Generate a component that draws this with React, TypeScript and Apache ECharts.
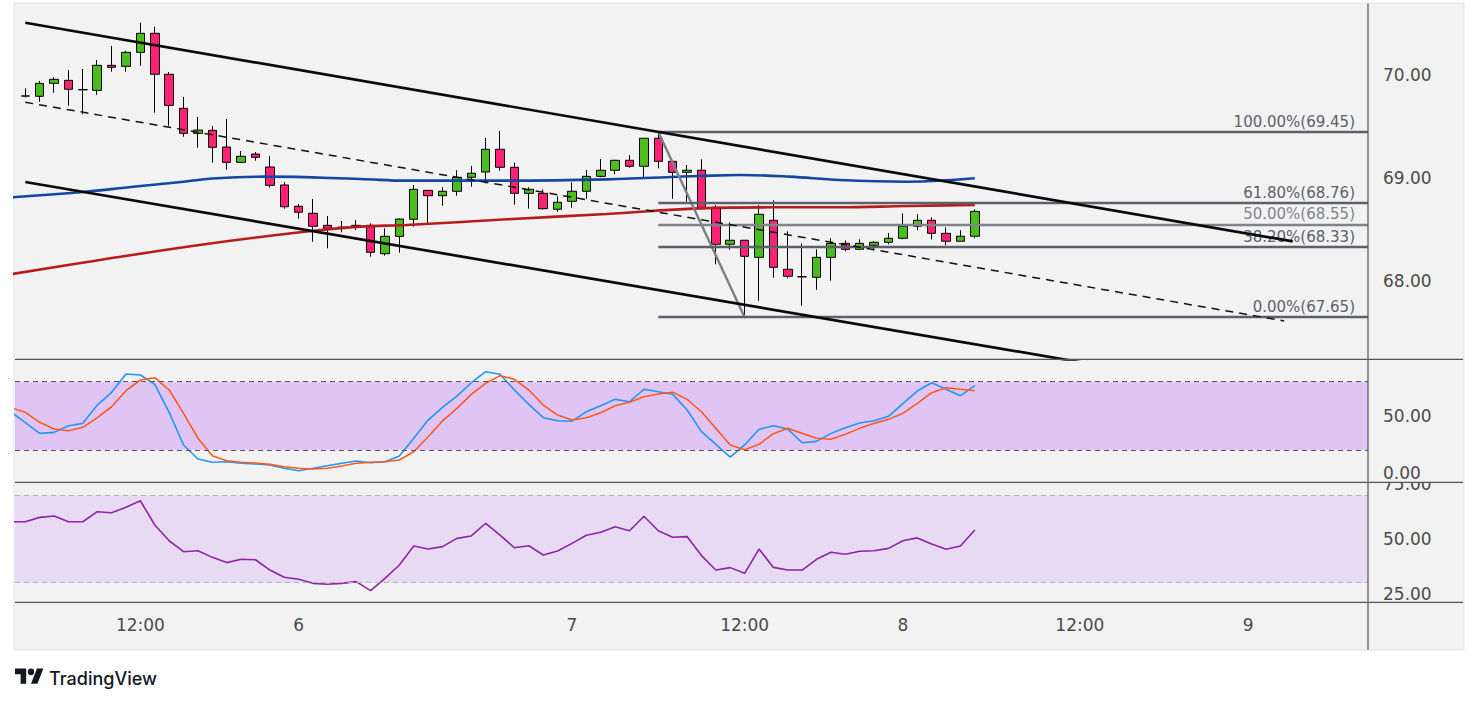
import React, { useEffect, useRef } from 'react';
import * as echarts from 'echarts';

// ---------- data (x = bar index; indicator arrays start at the partly hidden bar -1) ----------
const candleStart = 0;
const candleOpen = [69.80, 69.797, 69.923, 69.952, 69.861, 69.855, 70.098, 70.088, 70.224, 70.409, 70.011, 69.680, 69.437, 69.466, 69.304, 69.155, 69.236, 69.110, 68.935, 68.728, 68.660, 68.543, 68.524, 68.543, 68.543, 68.267, 68.436, 68.602, 68.883, 68.831, 68.874, 69.010, 69.061, 69.282, 69.107, 68.854, 68.854, 68.699, 68.776, 68.874, 69.019, 69.078, 69.175, 69.117, 69.389, 69.165, 69.058, 69.078, 68.718, 68.359, 68.398, 68.232, 68.592, 68.116, 68.043, 68.038, 68.232, 68.368, 68.310, 68.349, 68.378, 68.417, 68.534, 68.592, 68.465, 68.388, 68.437];
const candleClose = [69.80, 69.923, 69.962, 69.865, 69.861, 70.098, 70.079, 70.224, 70.409, 70.011, 69.709, 69.437, 69.469, 69.301, 69.155, 69.214, 69.204, 68.932, 68.724, 68.670, 68.534, 68.514, 68.524, 68.524, 68.281, 68.436, 68.604, 68.893, 68.831, 68.874, 69.010, 69.049, 69.282, 69.107, 68.854, 68.893, 68.705, 68.767, 68.874, 69.019, 69.078, 69.175, 69.117, 69.389, 69.165, 69.058, 69.078, 68.714, 68.359, 68.398, 68.242, 68.650, 68.135, 68.048, 68.043, 68.232, 68.368, 68.310, 68.368, 68.378, 68.417, 68.534, 68.592, 68.465, 68.388, 68.437, 68.679];
const candleLow = [69.787, 69.744, 69.832, 69.706, 69.622, 69.812, 70.036, 70.036, 70.094, 69.638, 69.511, 69.404, 69.297, 69.152, 69.084, 69.155, 69.171, 68.909, 68.705, 68.607, 68.384, 68.320, 68.475, 68.498, 68.238, 68.248, 68.277, 68.530, 68.559, 68.734, 68.831, 68.918, 68.951, 69.074, 68.743, 68.705, 68.695, 68.675, 68.714, 68.799, 69.010, 69.039, 69.103, 69.010, 69.097, 68.802, 68.773, 68.708, 68.164, 68.306, 67.640, 67.810, 68.034, 68.028, 67.762, 67.917, 68.005, 68.291, 68.310, 68.300, 68.359, 68.407, 68.495, 68.407, 68.349, 68.388, 68.417];
const candleHigh = [69.875, 69.946, 69.982, 70.052, 70.062, 70.150, 70.286, 70.240, 70.512, 70.473, 70.033, 69.790, 69.596, 69.508, 69.576, 69.265, 69.256, 69.217, 68.964, 68.750, 68.799, 68.634, 68.585, 68.595, 68.563, 68.514, 68.611, 68.935, 68.886, 68.913, 69.078, 69.120, 69.392, 69.460, 69.152, 68.913, 68.893, 68.825, 68.961, 69.081, 69.188, 69.180, 69.226, 69.392, 69.450, 69.170, 69.129, 69.185, 68.741, 68.572, 68.400, 68.741, 68.786, 68.485, 68.368, 68.310, 68.417, 68.397, 68.407, 68.388, 68.469, 68.660, 68.650, 68.621, 68.524, 68.495, 68.699];

const maBlue: [number, number][] = [[-1, 68.815], [4, 68.867], [7.5, 68.918], [11, 68.967], [13.3, 69.0], [16.8, 69.016], [23.3, 68.993], [26.5, 68.977], [33.5, 68.977], [40.4, 68.99], [46.9, 69.022], [49.7, 69.032], [53.1, 69.016], [56.6, 68.983], [61.3, 68.967], [66, 69.0]];
const maRed: [number, number][] = [[-1, 68.068], [5.2, 68.206], [12.1, 68.352], [19.1, 68.475], [23.3, 68.53], [26.5, 68.546], [33.5, 68.602], [40.4, 68.653], [46.9, 68.708], [51.8, 68.718], [56.6, 68.718], [61.3, 68.731], [66, 68.741]];

const indicatorStart = -1;
const stochK = [53.3, 44.0, 34.6, 35.5, 41.3, 43.4, 59.5, 70.7, 86.8, 85.9, 77.7, 53.1, 24.4, 12.1, 9.2, 9.7, 8.3, 7.7, 6.8, 3.9, 1.8, 3.9, 6.2, 8.3, 10.3, 8.8, 9.7, 14.7, 30.3, 46.3, 57.5, 67.4, 79.1, 88.8, 86.5, 72.7, 60.1, 48.4, 45.7, 45.4, 53.6, 58.9, 64.5, 62.4, 73.3, 71.2, 68.9, 55.1, 36.1, 25.0, 13.8, 24.4, 38.2, 41.3, 38.4, 26.4, 27.6, 34.6, 39.6, 43.7, 45.7, 49.6, 60.7, 71.8, 79.1, 73.3, 67.7, 76.5];
const stochD = [57.1, 53.1, 44.3, 38.4, 36.9, 39.9, 48.4, 58.0, 72.1, 81.5, 83.5, 72.7, 52.2, 30.3, 15.0, 10.6, 9.2, 8.6, 7.4, 5.3, 3.9, 3.3, 3.9, 5.9, 8.3, 9.2, 9.7, 11.2, 18.5, 31.7, 45.5, 56.6, 68.9, 78.6, 85.3, 82.1, 72.7, 59.5, 50.7, 46.3, 48.4, 52.8, 58.9, 61.9, 66.8, 69.2, 70.7, 64.5, 53.6, 39.0, 24.4, 20.2, 25.0, 34.3, 39.0, 34.6, 30.3, 29.4, 33.8, 39.0, 43.4, 46.9, 52.2, 61.0, 70.3, 74.7, 73.3, 72.1];
const rsiValues = [57.9, 57.9, 59.9, 60.5, 57.9, 57.9, 62.5, 62.0, 64.5, 67.5, 56.4, 49.2, 44.2, 44.6, 41.6, 39.2, 40.7, 40.5, 35.8, 32.5, 31.6, 29.7, 29.3, 29.7, 30.5, 26.4, 32.0, 38.1, 46.8, 45.4, 46.5, 50.3, 51.4, 57.2, 51.8, 46.0, 46.9, 42.7, 44.5, 48.0, 51.7, 53.1, 55.6, 53.8, 60.4, 53.8, 50.8, 51.1, 42.4, 35.8, 36.9, 34.3, 45.4, 37.0, 35.8, 35.8, 40.7, 43.9, 43.0, 44.4, 44.6, 45.7, 49.2, 50.5, 47.7, 45.3, 46.8, 54.1];

const trendUpper: [number, number][] = [[0, 70.512], [88.1, 68.387]];
const trendLower: [number, number][] = [[0, 68.964], [75, 67.173]];
const trendMid: [number, number][] = [[0, 69.739], [87.5, 67.614]];
const fibSwing: [number, number][] = [[44, 69.45], [50, 67.65]];
const fibPct = [100, 61.8, 50, 38.2, 0];
const fibLevels = [69.45, 68.76, 68.55, 68.33, 67.65];
const fibColors = ['#5d606b', '#5d606b', '#80838d', '#5d606b', '#5d606b'];

const priceTicks = [68, 69, 70];
const stochTicks = [0, 50];
const stochBand = [20, 80];
const rsiTicks = [25, 50, 75];
const rsiBand = [30, 70];
const timeTicks = [8, 19, 38, 50, 61, 73.3, 85];
const timeLabels = ['12:00', '6', '7', '12:00', '8', '12:00', '9'];

// ---------- layout ----------
const FONT = '"DejaVu Sans", Verdana, sans-serif';
const X_MIN = -0.716;
const X_MAX = 93.33;
const LABEL_COLOR = '#4a4a4a';

echarts.graphic.registerShape(
  'tvlogo',
  echarts.graphic.extendPath('M14 22H7V11H0V4h14v18zM28 22h-8l7.5-18h8L28 22zM24 8a4 4 0 1 1-8 0a4 4 0 1 1 8 0z', {})
);

const idx = (arr: number[]) => arr.map((v, k) => [k + indicatorStart, v]);

function buildOption(): any {
  const candles = candleOpen.map((o, k) => [k + candleStart, o, candleClose[k], candleLow[k], candleHigh[k]]);
  const yLabel = (ticks: number[]) => ({
    customValues: ticks,
    formatter: (v: number) => v.toFixed(2),
    color: LABEL_COLOR,
    fontSize: 17,
    fontFamily: FONT,
    margin: 15,
  });
  const hiddenX = (gridIndex: number) => ({
    type: 'value', gridIndex, min: X_MIN, max: X_MAX, show: false, splitLine: { show: false },
  });
  const lineBase = { type: 'line', symbol: 'none', showSymbol: false, silent: true, clip: true };

  return {
    animation: false,
    backgroundColor: '#ffffff',
    grid: [
      { left: 15, right: 111, top: 4, height: 355.3 },
      { left: 15, right: 111, top: 359.3, height: 123 },
      { left: 15, right: 111, top: 482.3, height: 120 },
    ],
    xAxis: [
      hiddenX(0),
      hiddenX(1),
      {
        type: 'value', gridIndex: 2, min: X_MIN, max: X_MAX,
        axisLine: { show: false }, axisTick: { show: false }, splitLine: { show: false },
        axisLabel: {
          customValues: timeTicks,
          formatter: (v: number) => {
            const k = timeTicks.findIndex((t) => Math.abs(t - v) < 0.01);
            return k >= 0 ? timeLabels[k] : '';
          },
          color: LABEL_COLOR, fontSize: 17, fontFamily: FONT, margin: 14,
        },
      },
    ],
    yAxis: [
      {
        type: 'value', gridIndex: 0, position: 'right', min: 67.241, max: 70.694,
        axisLine: { show: false }, axisTick: { show: false }, splitLine: { show: false },
        axisLabel: yLabel(priceTicks), z: 5,
      },
      {
        type: 'value', gridIndex: 1, position: 'right', min: -8.38, max: 99.68,
        axisLine: { show: false }, axisTick: { show: false }, splitLine: { show: false },
        axisLabel: yLabel(stochTicks), z: 5,
      },
      {
        type: 'value', gridIndex: 2, position: 'right', min: 21.03, max: 75.95,
        axisLine: { show: false }, axisTick: { show: false }, splitLine: { show: false },
        axisLabel: yLabel(rsiTicks), z: 0,
      },
    ],
    series: [
      {
        type: 'candlestick', xAxisIndex: 0, yAxisIndex: 0, data: candles, barWidth: 9, clip: true, z: 2,
        itemStyle: { color: '#4cbd1f', color0: '#ff2176', borderColor: '#000', borderColor0: '#000', borderColorDoji: '#000', borderWidth: 1 },
      },
      { ...lineBase, xAxisIndex: 0, yAxisIndex: 0, data: maBlue, smooth: 0.4, z: 3, lineStyle: { color: '#1447a0', width: 2.6 } },
      { ...lineBase, xAxisIndex: 0, yAxisIndex: 0, data: maRed, smooth: 0.4, z: 3, lineStyle: { color: '#b71c1c', width: 2.6 } },
      {
        ...lineBase, xAxisIndex: 0, yAxisIndex: 0, data: fibSwing, z: 4,
        lineStyle: { color: '#7c7f89', width: 2.4 },
        markLine: {
          silent: true, symbol: ['none', 'none'], animation: false,
          data: fibLevels.map((lv, k) => [
            {
              coord: [fibSwing[0][0], lv],
              lineStyle: { color: fibColors[k], width: 2.4, type: 'solid' },
              label: {
                show: true, position: 'insideEndTop', distance: [13, 3],
                formatter: `${fibPct[k].toFixed(2)}%(${lv.toFixed(2)})`,
                color: fibColors[k], fontSize: 15, fontFamily: FONT,
              },
            },
            { coord: [X_MAX, lv] },
          ]),
        },
      },
      { ...lineBase, xAxisIndex: 0, yAxisIndex: 0, data: trendMid, z: 5, lineStyle: { color: '#111', width: 1.5, type: [8, 6] } },
      { ...lineBase, xAxisIndex: 0, yAxisIndex: 0, data: trendUpper, z: 6, lineStyle: { color: '#0a0a0a', width: 2.7 } },
      { ...lineBase, xAxisIndex: 0, yAxisIndex: 0, data: trendLower, z: 6, lineStyle: { color: '#0a0a0a', width: 2.7 } },
      {
        ...lineBase, xAxisIndex: 1, yAxisIndex: 1, data: idx(stochK), z: 4,
        lineStyle: { color: '#2196f3', width: 1.6 },
        markArea: {
          silent: true,
          itemStyle: { color: '#e0c5f4' },
          data: [[{ yAxis: stochBand[0] }, { yAxis: stochBand[1] }]],
        },
        markLine: {
          silent: true, symbol: ['none', 'none'], animation: false, label: { show: false },
          lineStyle: { color: '#5c5266', width: 1, type: [5, 4] },
          data: stochBand.map((v) => ({ yAxis: v })),
        },
      },
      { ...lineBase, xAxisIndex: 1, yAxisIndex: 1, data: idx(stochD), z: 4, lineStyle: { color: '#ff5a1f', width: 1.6 } },
      {
        ...lineBase, xAxisIndex: 2, yAxisIndex: 2, data: idx(rsiValues), z: 4,
        lineStyle: { color: '#8e24aa', width: 1.6 },
        markArea: {
          silent: true,
          itemStyle: { color: '#e8daf3' },
          data: [[{ yAxis: rsiBand[0] }, { yAxis: rsiBand[1] }]],
        },
        markLine: {
          silent: true, symbol: ['none', 'none'], animation: false, label: { show: false },
          lineStyle: { color: '#b9afc4', width: 1, type: [5, 4] },
          data: rsiBand.map((v) => ({ yAxis: v })),
        },
      },
    ],
    graphic: [
      { type: 'rect', z: -10, silent: true, shape: { x: 14, y: 3, width: 1450, height: 647 }, style: { fill: '#f2f2f2', stroke: '#e3e3e8', lineWidth: 1 } },
      { type: 'rect', z: 2, silent: true, shape: { x: 1369, y: 470, width: 94, height: 12.3 }, style: { fill: '#f2f2f2' } },
      { type: 'line', z: 10, silent: true, shape: { x1: 15, y1: 359.3, x2: 1463, y2: 359.3 }, style: { stroke: '#555', lineWidth: 1.2 } },
      { type: 'line', z: 10, silent: true, shape: { x1: 15, y1: 482.3, x2: 1463, y2: 482.3 }, style: { stroke: '#555', lineWidth: 1.2 } },
      { type: 'line', z: 10, silent: true, shape: { x1: 15, y1: 602.3, x2: 1463, y2: 602.3 }, style: { stroke: '#555', lineWidth: 1.2 } },
      { type: 'line', z: 10, silent: true, shape: { x1: 1368, y1: 3.5, x2: 1368, y2: 650 }, style: { stroke: '#555', lineWidth: 1.2 } },
      { type: 'tvlogo', z: 10, silent: true, x: 15, y: 665, scaleX: 0.8, scaleY: 0.85, style: { fill: '#131722' } },
      {
        type: 'text', z: 10, silent: true, x: 49, y: 678,
        style: { text: 'TradingView', fill: '#131722', fontSize: 18, fontWeight: 500, fontFamily: 'Inter, "Noto Sans", sans-serif', verticalAlign: 'middle' },
      },
    ],
  };
}

export default function App() {
  const ref = useRef<HTMLDivElement>(null);
  useEffect(() => {
    if (!ref.current) return;
    const chart = echarts.init(ref.current, null, { renderer: 'svg' });
    chart.setOption(buildOption());
    return () => chart.dispose();
  }, []);
  return (
    <div
      ref={ref}
      style={{ position: 'fixed', left: 0, top: 0, width: 1479, height: 703, background: '#ffffff' }}
    />
  );
}
